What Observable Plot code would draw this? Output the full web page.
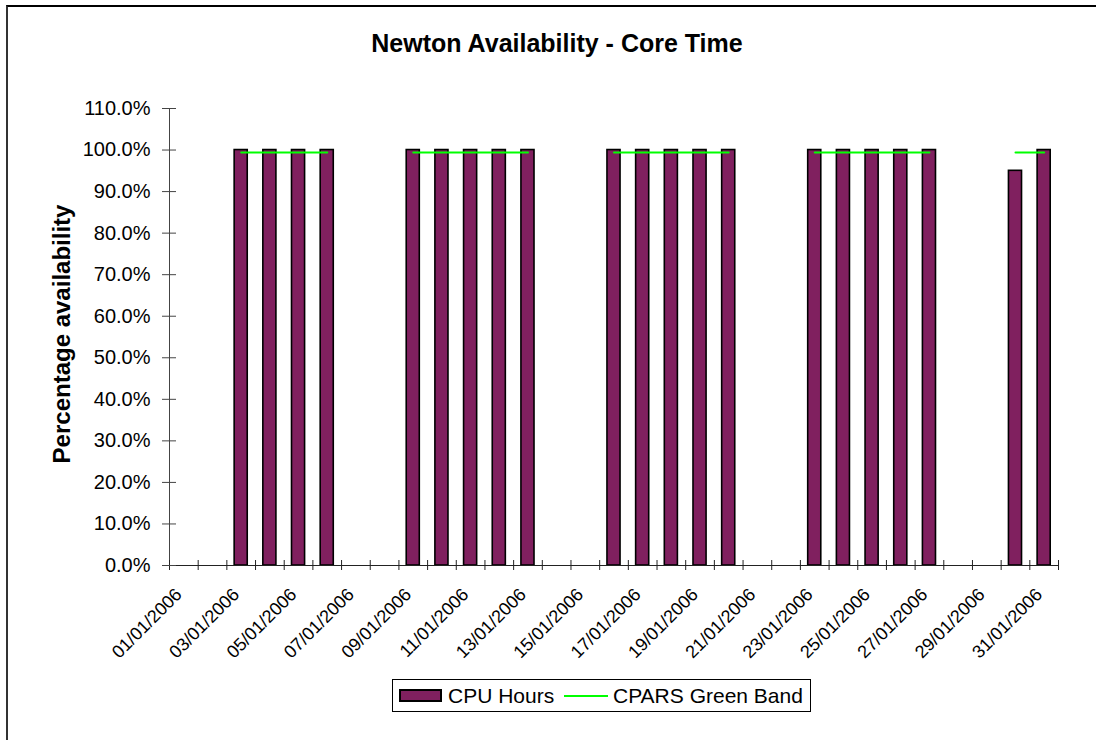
<!DOCTYPE html>
<html>
<head>
<meta charset="utf-8">
<script src="https://cdn.jsdelivr.net/npm/d3@7"></script>
<script src="https://cdn.jsdelivr.net/npm/@observablehq/plot@0.6"></script>
<style>
  html, body { margin: 0; padding: 0; background: #fff; }
  #wrap { position: relative; width: 1096px; height: 740px; overflow: hidden; font-family: "Liberation Sans", Arial, sans-serif; }
  #frame { position: absolute; left: 6px; top: 5px; width: 1200px; height: 1000px; border-top: 2px solid #000; border-left: 2px solid #333; }
  #chart { position: absolute; left: 0; top: 0; }
  #title { position: absolute; left: 0; width: 1114px; top: 28px; text-align: center; font-weight: bold; font-size: 25px; line-height: 30px; color: #000; }
  #ylab { position: absolute; left: 62px; top: 334px; transform: translate(-50%, -50%) rotate(-90deg); white-space: nowrap; font-weight: bold; font-size: 24px; color: #000; }
  #legend { position: absolute; left: 392px; top: 679px; width: 419px; height: 33px; border: 1px solid #000; box-sizing: border-box; background: #fff; font-size: 21px; line-height: 24px; color: #000; }
  #legend .sw { position: absolute; left: 6px; top: 9px; width: 43px; height: 13px; background: #80205f; border: 2px solid #000; box-sizing: border-box; }
  #legend .t1 { position: absolute; left: 55px; top: 4px; }
  #legend .ln { position: absolute; left: 171px; top: 15px; width: 44px; height: 2px; background: #00ff00; }
  #legend .t2 { position: absolute; left: 220px; top: 4px; }
</style>
</head>
<body>
<div id="wrap">
  <div id="frame"></div>
  <div id="chart"></div>
  <div id="title">Newton Availability - Core Time</div>
  <div id="ylab">Percentage availability</div>
  <div id="legend">
    <div class="sw"></div><div class="t1">CPU Hours</div>
    <div class="ln"></div><div class="t2">CPARS Green Band</div>
  </div>
</div>
<script>
const dates = ["01/01/2006","02/01/2006","03/01/2006","04/01/2006","05/01/2006","06/01/2006","07/01/2006","08/01/2006","09/01/2006","10/01/2006","11/01/2006","12/01/2006","13/01/2006","14/01/2006","15/01/2006","16/01/2006","17/01/2006","18/01/2006","19/01/2006","20/01/2006","21/01/2006","22/01/2006","23/01/2006","24/01/2006","25/01/2006","26/01/2006","27/01/2006","28/01/2006","29/01/2006","30/01/2006","31/01/2006"];
const cpuHours = [null,null,100,100,100,100,null,null,100,100,100,100,100,null,null,100,100,100,100,100,null,null,100,100,100,100,100,null,null,95,100];
const greenBand = [null,null,99.4,99.4,99.4,99.4,null,null,99.4,99.4,99.4,99.4,99.4,null,null,99.4,99.4,99.4,99.4,99.4,null,null,99.4,99.4,99.4,99.4,99.4,null,null,99.4,99.4];
const yTicks = [0,10,20,30,40,50,60,70,80,90,100,110];
const xLabelDates = dates.filter((d, i) => i % 2 === 0);

const rows = dates.map((d, i) => ({date: d, i, cpu: cpuHours[i], band: greenBand[i]}));
const boundaries = d3.range(dates.length + 1);
const labelRows = rows.filter(r => xLabelDates.includes(r.date));

const chart = Plot.plot({
  width: 1096,
  height: 740,
  marginLeft: 169,
  marginRight: 38,
  marginTop: 108,
  marginBottom: 175,
  style: {background: "transparent", fontFamily: "Liberation Sans, Arial, sans-serif"},
  x: {type: "linear", domain: [0, dates.length], axis: null},
  y: {domain: [0, 110], axis: null},
  marks: [
    Plot.rectY(rows.filter(r => r.cpu != null), {
      x1: r => r.i, x2: r => r.i + 1, y1: 0, y2: "cpu",
      insetLeft: 7.8, insetRight: 7.8,
      fill: "#80205f", stroke: "#000", strokeWidth: 1.6
    }),
    Plot.line(rows, {
      x: r => r.i + 0.5, y: r => r.band == null ? NaN : r.band,
      stroke: "#00ff00", strokeWidth: 2
    }),
    Plot.ruleX([0], {stroke: "#444", strokeWidth: 1}),
    Plot.ruleY([0], {stroke: "#222", strokeWidth: 1}),
    Plot.ruleX(boundaries, {x: d => d, y1: 0, y2: 0, insetTop: 5, insetBottom: 5, stroke: "#222"}),
    Plot.ruleY(yTicks, {y: d => d, x1: 0, x2: 0, insetLeft: -7, insetRight: -7, stroke: "#444"}),
    Plot.text(yTicks, {
      x: 0, y: d => d, text: d => d.toFixed(1) + "%",
      textAnchor: "end", dx: -19, fontSize: 20, fill: "#000"
    }),
    Plot.text(labelRows, {
      x: r => r.i + 0.5, y: 0, text: "date",
      rotate: -45, textAnchor: "end", dx: -5, dy: 26, fontSize: 18, fill: "#000"
    })
  ]
});
document.getElementById("chart").appendChild(chart);
</script>
</body>
</html>
